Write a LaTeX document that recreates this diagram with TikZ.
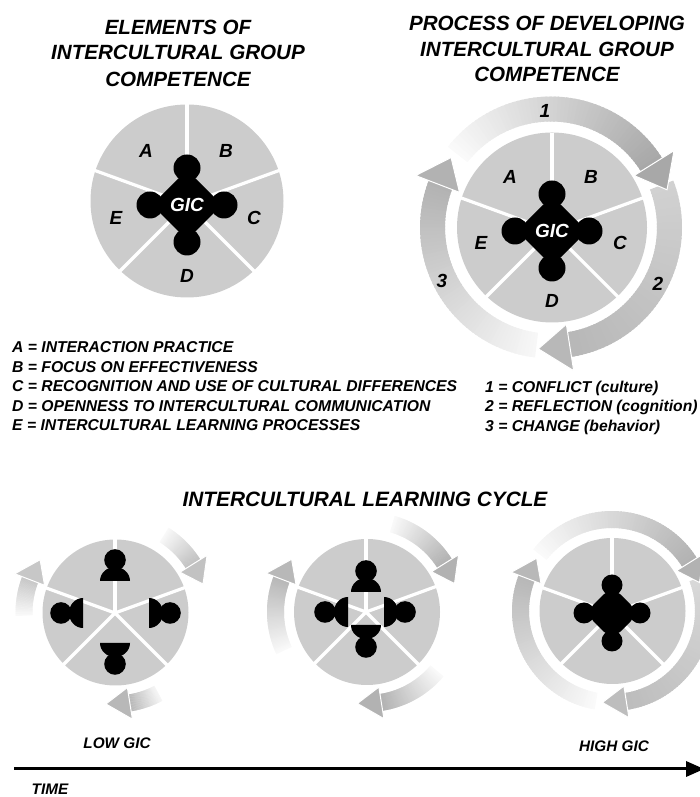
\documentclass[tikz,border=0pt]{standalone}
\usepackage{fontspec}
\setmainfont{Liberation Sans}
\usetikzlibrary{positioning}

\definecolor{piegray}{gray}{0.8}
\tikzset{
  txt/.style={inner sep=0pt,font=\bfseries\itshape},
  titletxt/.style={txt,font=\fontsize{20.6}{20.6}\selectfont\bfseries\itshape},
  lettertxt/.style={txt,font=\fontsize{19}{19}\selectfont\bfseries\itshape},
  legendtxt/.style={txt,anchor=west,font=\fontsize{15.7}{15.7}\selectfont\bfseries\itshape},
  smalltxt/.style={txt,font=\fontsize{15.3}{15.3}\selectfont\bfseries\itshape},
  spoke/.style={draw=white,line width=3.2pt},
}

% pie: name, circle centre, hub, radius
\newcommand{\gicpie}[4]{
\coordinate (#1) at (#3);
\fill[piegray] (#2) circle (#4);
\foreach \a in {90,20,-45,-135,160}{
\draw[spoke] (#1) -- ++(\a:#4+3);
}
}
% joined group: centre, body half width, body radius, circle offset, circle radius
\newcommand{\gicblob}[5]{
\begin{scope}[shift={(#1)}]
\fill[rounded corners=12pt] (-#2,0)--(0,#2)--(#2,0)--(0,-#2)--cycle;
\fill (0,0) circle (#3);
\foreach \a in {0,90,180,270}{
\fill (\a:#4) circle (#5);
}
\end{scope}
}
% one person: hub, direction, distance of flat side, distance of head
\newcommand{\gicperson}[4]{
\begin{scope}[shift={(#1)},rotate=#2]
\fill (#3,-15) arc[start angle=-90,end angle=90,x radius=14,y radius=15] -- cycle;
\fill (#4,0) circle (10.8);
\end{scope}
}
% ring sizes: inner, outer, head inner, head outer, head tip
\newcommand{\ringsize}[5]{\def\rin{#1}\def\rout{#2}\def\hin{#3}\def\hout{#4}\def\htip{#5}}
% ring arrow: centre, start angle, base angle, tip angle, start black, end black
\newcommand{\ringarrow}[6]{
\begin{scope}[shift={(#1)}]
\foreach \i in {0,...,59}{
\pgfmathsetmacro\aone{#2+(#3-#2)*\i/60}
\pgfmathsetmacro\atwo{#2+(#3-#2)*(\i+1.5)/60}
\pgfmathsetmacro\gval{#5+(#6-#5)*\i/59}
\fill[black!\gval!white] (\aone:\rin)--(\aone:\rout)--(\atwo:\rout)--(\atwo:\rin)--cycle;
}
\filldraw[fill=black!#6!white,draw=white,line width=1pt,line join=miter] (#3:\hin)--(#3:\hout)--(#4:\htip)--cycle;
\end{scope}
}

\begin{document}
\begin{tikzpicture}[x=1pt,y=1pt]
\useasboundingbox (0,0) rectangle (700,797);
\clip (0,0) rectangle (700,797);

% titles
\node[titletxt] (elemA) at (178,770) {ELEMENTS OF};
\node[titletxt] (elemB) at (178,745) {INTERCULTURAL GROUP};
\node[titletxt] (elemC) at (178,718) {COMPETENCE};
\node[titletxt] (procA) at (547,774) {PROCESS OF DEVELOPING};
\node[titletxt] (procB) at (547,748) {INTERCULTURAL GROUP};
\node[titletxt] (procC) at (547,723) {COMPETENCE};

% elements
\gicpie{hubE}{187,596}{187,593}{96.5}
\gicblob{187,592}{35}{24}{37}{13.5}
\node[lettertxt] (eA) at (146,646) {A};
\node[lettertxt] (eB) at (226,646) {B};
\node[lettertxt] (eC) at (254,579) {C};
\node[lettertxt] (eD) at (187,521) {D};
\node[lettertxt] (eE) at (116,579) {E};
\node[lettertxt,white] (eG) at (187,592) {GIC};

% process
\gicpie{hubP}{552,569.5}{552,566}{95}
\gicblob{552,566}{35}{24}{37}{13.5}
\ringsize{106}{131}{98}{145}{122}
\ringarrow{551,569.5}{-97}{-201}{-215}{3}{30}
\ringarrow{551,569.5}{21}{-81}{-96}{18}{28}
\ringarrow{551,569.5}{142}{32}{18}{2}{34}
\node[lettertxt] (pA) at (510,620) {A};
\node[lettertxt] (pB) at (591,620) {B};
\node[lettertxt] (pC) at (620,554) {C};
\node[lettertxt] (pD) at (552,496) {D};
\node[lettertxt] (pE) at (481,554) {E};
\node[lettertxt,white] (pG) at (552,566) {GIC};
\node[lettertxt] (pOne) at (545,686) {1};
\node[lettertxt] (pTwo) at (658,513) {2};
\node[lettertxt] (pThree) at (442,516) {3};

% legends
\node[legendtxt] (legA) at (12,450) {A = INTERACTION PRACTICE};
\node[legendtxt] (legB) at (12,430) {B = FOCUS ON EFFECTIVENESS};
\node[legendtxt] (legC) at (12,411) {C = RECOGNITION AND USE OF CULTURAL DIFFERENCES};
\node[legendtxt] (legD) at (12,391) {D = OPENNESS TO INTERCULTURAL COMMUNICATION};
\node[legendtxt] (legE) at (12,372) {E = INTERCULTURAL LEARNING PROCESSES};
\node[legendtxt] (legOne) at (485,409) {1 = CONFLICT (culture)};
\node[legendtxt] (legTwo) at (485,390) {2 = REFLECTION (cognition)};
\node[legendtxt] (legThree) at (485,370) {3 = CHANGE (behavior)};

% cycle
\node[txt,font=\fontsize{20.8}{20.8}\selectfont\bfseries\itshape] (cycle) at (365,298) {INTERCULTURAL LEARNING CYCLE};
\ringsize{83}{100}{76}{108}{92}

\gicpie{hubLow}{115.5,184.5}{115,184}{73}
\foreach \a/\b/\h in {90/32/53,0/34/55,180/32/54,270/30/51}{
\gicperson{hubLow}{\a}{\b}{\h}
}
\ringarrow{115.5,184.5}{182}{159}{145}{2}{22}
\ringarrow{115.5,184.5}{-62}{-81}{-96}{3}{28}
\ringarrow{115.5,184.5}{58}{32}{18}{2}{24}

\gicpie{hubMid}{367,185}{366,185}{73}
\foreach \a/\b/\h in {90/20/41,0/18/39,180/18/41,270/13/35}{
\gicperson{hubMid}{\a}{\b}{\h}
}
\ringarrow{367,185}{205}{159}{145}{2}{28}
\ringarrow{367,185}{-40}{-81}{-96}{2}{30}
\ringarrow{367,185}{74}{32}{18}{2}{30}

\gicpie{hubHigh}{612.5,186}{612,184}{73}
\gicblob{612,184}{27}{18}{28}{10.5}
\ringarrow{612,186}{-100}{-201}{-215}{2}{28}
\ringarrow{612,186}{21}{-81}{-96}{15}{26}
\ringarrow{612,186}{142}{32}{18}{2}{30}

\node[smalltxt] (low) at (117,54) {LOW GIC};
\node[smalltxt] (high) at (614,51) {HIGH GIC};

% time axis
\coordinate (timeL) at (14,28);
\coordinate (timeR) at (688,28);
\draw[line width=3pt] (timeL) -- (timeR);
\fill (686,36)--(704,28)--(686,20)--cycle;
\node[smalltxt] (time) at (50,8) {TIME};
\end{tikzpicture}
\end{document}
